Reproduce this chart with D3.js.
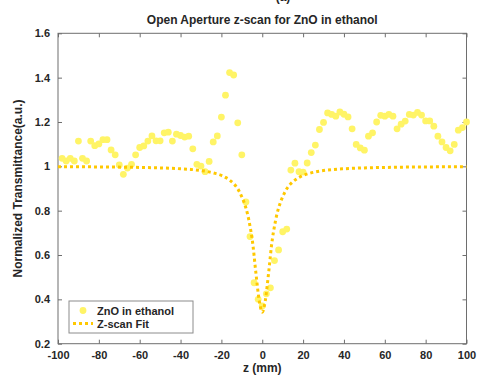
<!DOCTYPE html>
<html>
<head>
<meta charset="utf-8">
<script src="https://cdn.jsdelivr.net/npm/d3@7"></script>
<style>
body{margin:0;background:#fff;}
text{font-family:'Liberation Sans',Arial,sans-serif;font-weight:bold;fill:#262626;}
</style>
</head>
<body>
<svg id="chart" width="478" height="377"></svg>
<script>
'use strict';

// measured points (z in mm, normalized transmittance)
var zPos=[-98,-96,-94,-92,-90,-88,-86,-84,-82,-80,-78,-76,-74,-72,-70,-68,-66,-64,-62,-60,
    -58,-56,-54,-52,-50,-48,-46,-44,-42,-40,-38,-36,-34,-32,-30,-28,-26,-24,-22,-20,
    -18,-16,-14,-12,-10,-8,-6,-4,-2,0,2,4,6,8,10,12,14,16,18,20,
    22,24,26,28,30,32,34,36,38,40,42,44,46,48,50,52,54,56,58,60,
    62,64,66,68,70,72,74,76,78,80,82,84,86,88,90,92,94,96,98,100];
var trans=[1.036,1.024,1.036,1.024,1.114,1.036,1.024,1.114,1.093,1.101,1.12,1.12,1.074,1.052,1.006,0.964,0.992,1.009,1.052,1.085,
    1.092,1.114,1.137,1.115,1.115,1.151,1.154,1.114,1.145,1.139,1.132,1.136,1.079,1.009,1.001,0.976,1.022,1.11,1.137,1.222,
    1.321,1.423,1.412,1.196,1.052,0.839,0.683,0.475,0.40,0.37,0.425,0.452,0.575,0.623,0.705,0.717,0.983,1.014,0.976,0.974,
    1.015,1.062,1.096,1.166,1.198,1.241,1.234,1.226,1.245,1.235,1.223,1.169,1.099,1.083,1.073,1.136,1.151,1.2,1.23,1.226,
    1.234,1.226,1.169,1.19,1.204,1.234,1.231,1.243,1.231,1.205,1.205,1.181,1.136,1.11,1.085,1.07,1.099,1.163,1.175,1.2];

// fit curve
var fitZ=[-100,-75,-60,-50,-40,-35,-30,-26,-23,-20,-18,-16,-14,-12,-11,-10,-9,-8,-7,-6.5,-6,-5.5,-5,-4.5,-4,-3.5,-3,-2.5,-2,-1.5,-1,-0.5,
    0,0.5,1,1.5,2,2.5,3,3.5,4,4.5,5,5.5,6,6.5,7,8,9,10,11,12,14,16,18,20,23,26,30,35,40,50,60,75,100];
var fitT=[0.998,0.997,0.995,0.993,0.989,0.986,0.981,0.975,0.968,0.959,0.950,0.938,0.922,0.899,0.882,0.862,0.840,0.812,0.777,0.755,0.730,0.705,0.675,0.640,0.598,0.552,0.510,0.468,0.428,0.395,0.370,0.350,
    0.342,0.350,0.370,0.395,0.428,0.468,0.510,0.552,0.598,0.640,0.675,0.705,0.730,0.755,0.777,0.812,0.840,0.862,0.882,0.899,0.922,0.938,0.950,0.959,0.968,0.975,0.981,0.986,0.989,0.993,0.995,0.997,0.998];

var xTicks=[-100,-80,-60,-40,-20,0,20,40,60,80,100];
var yTicks=[0.2,0.4,0.6,0.8,1,1.2,1.4,1.6];
var legendNames=['ZnO in ethanol','Z-scan Fit'];

var svg=d3.select('#chart')
  , L=58, R=466.5, T=33.3, B=343.7
  , ptCol='#fff466'
  , fitCol='#ffc800'
  , axCol='#6e6e6e'

var x=d3.scaleLinear().domain([-100,100]).range([L,R])
  , y=d3.scaleLinear().domain([0.2,1.6]).range([B,T])

// panel label, cut off by the top edge like in the source figure
svg.append('text')
    .attr('x',283).attr('y',1)
    .attr('text-anchor','middle')
    .style('font-size','12px')
    .text('(a)');

svg.append('text')
    .attr('x',(L+R)/2).attr('y',24)
    .attr('text-anchor','middle')
    .style('font-size','12px')
    .text('Open Aperture z-scan for ZnO in ethanol');

// axes, ticks pointing in
svg.append('g')
    .attr('transform','translate(0,'+B+')')
    .call(d3.axisBottom(x).tickValues(xTicks).tickSizeInner(-4).tickSizeOuter(0).tickPadding(8)
        .tickFormat(function(d){return String(d);}))
    .call(function(g){g.select('.domain').remove();});
svg.append('g')
    .attr('transform','translate(0,'+T+')')
    .call(d3.axisTop(x).tickValues(xTicks).tickSizeInner(-4).tickSizeOuter(0).tickFormat(''))
    .call(function(g){g.select('.domain').remove();});
svg.append('g')
    .attr('transform','translate('+L+',0)')
    .call(d3.axisLeft(y).tickValues(yTicks).tickSizeInner(-4).tickSizeOuter(0).tickPadding(8)
        .tickFormat(function(d){return String(+d.toFixed(1));}))
    .call(function(g){g.select('.domain').remove();});
svg.append('g')
    .attr('transform','translate('+R+',0)')
    .call(d3.axisRight(y).tickValues(yTicks).tickSizeInner(-4).tickSizeOuter(0).tickFormat(''))
    .call(function(g){g.select('.domain').remove();});

svg.selectAll('.tick line').attr('stroke',axCol);
svg.selectAll('.tick text')
    .style('font-size','11px')
    .style('font-family',"'Liberation Sans',Arial,sans-serif")
    .style('font-weight','bold')
    .attr('fill','#262626');

svg.append('rect')
    .attr('x',L).attr('y',T)
    .attr('width',R-L).attr('height',B-T)
    .attr('fill','none')
    .attr('stroke',axCol)
    .attr('stroke-width',1);

// data
var pts=zPos.map(function(z,i){return [z,trans[i]];});
svg.append('g').selectAll('circle')
    .data(pts)
    .enter().append('circle')
    .attr('cx',function(d){return x(d[0]);})
    .attr('cy',function(d){return y(d[1]);})
    .attr('r',3.4)
    .attr('fill',ptCol);

var fit=fitZ.map(function(z,i){return [z,fitT[i]];});
svg.append('path')
    .datum(fit)
    .attr('d',d3.line().x(function(d){return x(d[0]);}).y(function(d){return y(d[1]);}).curve(d3.curveMonotoneX))
    .attr('fill','none')
    .attr('stroke',fitCol)
    .attr('stroke-width',3)
    .attr('stroke-dasharray','3,3');

// labels
svg.append('text')
    .attr('x',(L+R)/2).attr('y',372)
    .attr('text-anchor','middle')
    .style('font-size','12px')
    .text('z (mm)');
svg.append('text')
    .attr('transform','translate(22,'+((T+B)/2)+') rotate(-90)')
    .attr('text-anchor','middle')
    .style('font-size','12px')
    .text('Normalized Transmittance(a.u.)');

// legend
var lg=svg.append('g').attr('transform','translate(69,301)');
lg.append('rect')
    .attr('width',124).attr('height',32)
    .attr('fill','#fff')
    .attr('stroke','#8c8c8c');
lg.append('circle')
    .attr('cx',14).attr('cy',9.5)
    .attr('r',3.4)
    .attr('fill',ptCol);
lg.append('line')
    .attr('x1',4).attr('x2',24)
    .attr('y1',22.5).attr('y2',22.5)
    .attr('stroke',fitCol)
    .attr('stroke-width',3)
    .attr('stroke-dasharray','3,3');
lg.selectAll('text.lg')
    .data(legendNames)
    .enter().append('text')
    .attr('class','lg')
    .attr('x',28)
    .attr('y',function(d,i){return 13.5+i*13;})
    .style('font-size','11px')
    .text(function(d){return d;});
</script>
</body>
</html>
